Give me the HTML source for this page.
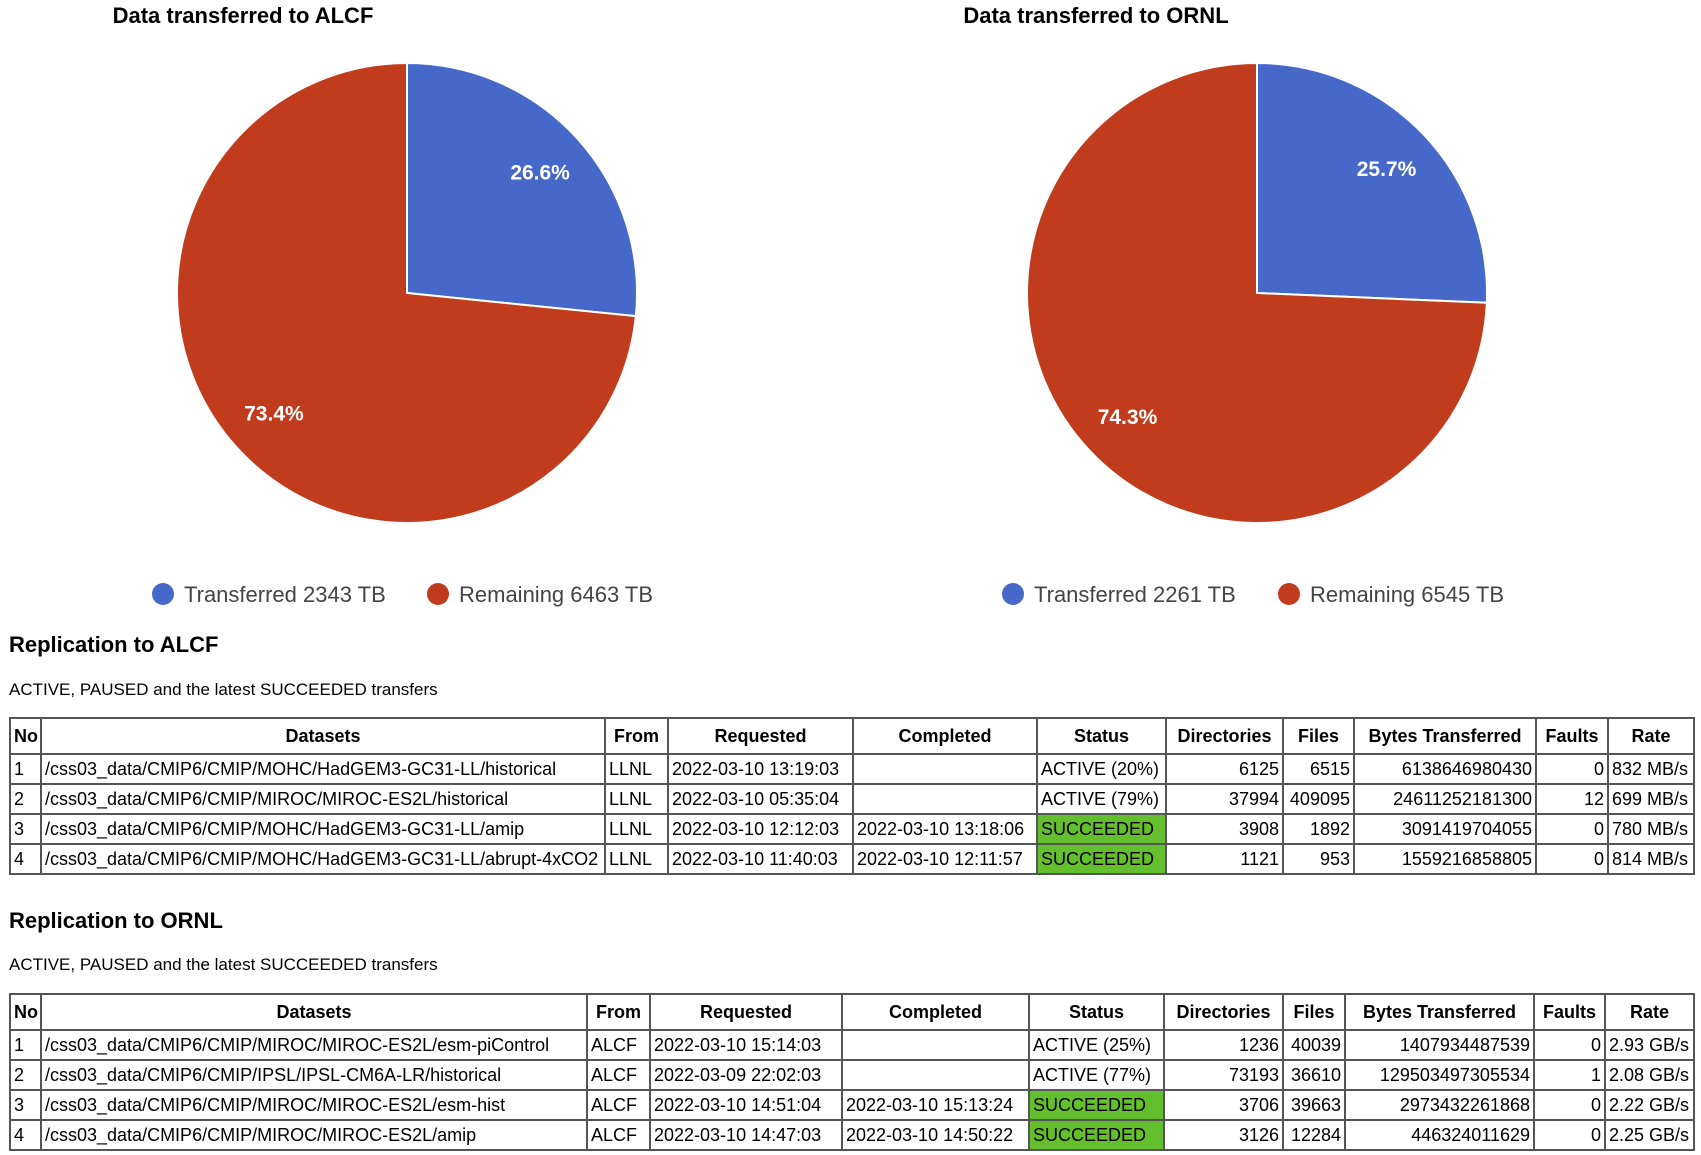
<!DOCTYPE html>
<html><head><meta charset="utf-8">
<style>
body{margin:0;width:1701px;height:1155px;background:#fff;position:relative;overflow:hidden;font-family:"Liberation Sans",Arial,sans-serif;color:#000}
.abs{position:absolute;white-space:nowrap}
h2{margin:0;font-size:22px;font-weight:bold}
.sub{font-size:17px}
table{position:absolute;left:9px;border-collapse:collapse;table-layout:fixed;font-size:18px}
td,th{border:2px solid #555;padding:0 3px;height:28px;white-space:nowrap;overflow:hidden}
th{height:34px;font-weight:bold}
td.r{text-align:right}
td.ok{background:#63bf2e}
</style></head><body>
<svg id="charts" width="1701" height="640" style="position:absolute;left:0;top:0"></svg>

<div class="abs" style="left:9px;top:632px"><h2>Replication to ALCF</h2></div>
<div class="abs sub" style="left:9px;top:680px">ACTIVE, PAUSED and the latest SUCCEEDED transfers</div>
<table style="top:717px;width:1684px">
<colgroup><col style="width:31px"><col style="width:564px"><col style="width:63px"><col style="width:185px"><col style="width:184px"><col style="width:129px"><col style="width:117px"><col style="width:71px"><col style="width:182px"><col style="width:72px"><col style="width:86px"></colgroup>
<tr><th>No</th><th>Datasets</th><th>From</th><th>Requested</th><th>Completed</th><th>Status</th><th>Directories</th><th>Files</th><th>Bytes Transferred</th><th>Faults</th><th>Rate</th></tr>
<tr><td>1</td><td>/css03_data/CMIP6/CMIP/MOHC/HadGEM3-GC31-LL/historical</td><td>LLNL</td><td>2022-03-10 13:19:03</td><td></td><td>ACTIVE (20%)</td><td class="r">6125</td><td class="r">6515</td><td class="r">6138646980430</td><td class="r">0</td><td>832 MB/s</td></tr>
<tr><td>2</td><td>/css03_data/CMIP6/CMIP/MIROC/MIROC-ES2L/historical</td><td>LLNL</td><td>2022-03-10 05:35:04</td><td></td><td>ACTIVE (79%)</td><td class="r">37994</td><td class="r">409095</td><td class="r">24611252181300</td><td class="r">12</td><td>699 MB/s</td></tr>
<tr><td>3</td><td>/css03_data/CMIP6/CMIP/MOHC/HadGEM3-GC31-LL/amip</td><td>LLNL</td><td>2022-03-10 12:12:03</td><td>2022-03-10 13:18:06</td><td class="ok">SUCCEEDED</td><td class="r">3908</td><td class="r">1892</td><td class="r">3091419704055</td><td class="r">0</td><td>780 MB/s</td></tr>
<tr><td>4</td><td>/css03_data/CMIP6/CMIP/MOHC/HadGEM3-GC31-LL/abrupt-4xCO2</td><td>LLNL</td><td>2022-03-10 11:40:03</td><td>2022-03-10 12:11:57</td><td class="ok">SUCCEEDED</td><td class="r">1121</td><td class="r">953</td><td class="r">1559216858805</td><td class="r">0</td><td>814 MB/s</td></tr>
</table>

<div class="abs" style="left:9px;top:908px"><h2>Replication to ORNL</h2></div>
<div class="abs sub" style="left:9px;top:955px">ACTIVE, PAUSED and the latest SUCCEEDED transfers</div>
<table style="top:993px;width:1684px">
<colgroup><col style="width:31px"><col style="width:546px"><col style="width:63px"><col style="width:192px"><col style="width:187px"><col style="width:135px"><col style="width:119px"><col style="width:62px"><col style="width:189px"><col style="width:71px"><col style="width:89px"></colgroup>
<tr><th>No</th><th>Datasets</th><th>From</th><th>Requested</th><th>Completed</th><th>Status</th><th>Directories</th><th>Files</th><th>Bytes Transferred</th><th>Faults</th><th>Rate</th></tr>
<tr><td>1</td><td>/css03_data/CMIP6/CMIP/MIROC/MIROC-ES2L/esm-piControl</td><td>ALCF</td><td>2022-03-10 15:14:03</td><td></td><td>ACTIVE (25%)</td><td class="r">1236</td><td class="r">40039</td><td class="r">1407934487539</td><td class="r">0</td><td>2.93 GB/s</td></tr>
<tr><td>2</td><td>/css03_data/CMIP6/CMIP/IPSL/IPSL-CM6A-LR/historical</td><td>ALCF</td><td>2022-03-09 22:02:03</td><td></td><td>ACTIVE (77%)</td><td class="r">73193</td><td class="r">36610</td><td class="r">129503497305534</td><td class="r">1</td><td>2.08 GB/s</td></tr>
<tr><td>3</td><td>/css03_data/CMIP6/CMIP/MIROC/MIROC-ES2L/esm-hist</td><td>ALCF</td><td>2022-03-10 14:51:04</td><td>2022-03-10 15:13:24</td><td class="ok">SUCCEEDED</td><td class="r">3706</td><td class="r">39663</td><td class="r">2973432261868</td><td class="r">0</td><td>2.22 GB/s</td></tr>
<tr><td>4</td><td>/css03_data/CMIP6/CMIP/MIROC/MIROC-ES2L/amip</td><td>ALCF</td><td>2022-03-10 14:47:03</td><td>2022-03-10 14:50:22</td><td class="ok">SUCCEEDED</td><td class="r">3126</td><td class="r">12284</td><td class="r">446324011629</td><td class="r">0</td><td>2.25 GB/s</td></tr>
</table>

<script>
const chartTitles = ["Data transferred to ALCF", "Data transferred to ORNL"];
const sliceLabels = ["Transferred", "Remaining"];
const alcfValues = [2343, 6463];
const ornlValues = [2261, 6545];
const colors = ["#4668c9", "#c13b1d"];
const NS = "http://www.w3.org/2000/svg";
const svg = document.getElementById("charts");
const layout = [{cx:407, title:243, legX:[163,438]}, {cx:1257, title:1096, legX:[1013,1289]}];
const CY = 293, R = 230;
function mk(tag, attrs){const e=document.createElementNS(NS,tag);for(const k in attrs)e.setAttribute(k,attrs[k]);svg.appendChild(e);return e;}
function pt(cx,a,r){return [cx+r*Math.sin(a), CY-r*Math.cos(a)];}
[alcfValues, ornlValues].forEach((vals, ci) => {
  const L = layout[ci];
  const t = mk("text",{x:L.title,y:23,"text-anchor":"middle","font-size":"22","font-weight":"bold","font-family":"Liberation Sans, sans-serif"});
  t.textContent = chartTitles[ci];
  
  
  const total = vals.reduce((a,b)=>a+b,0);
  let a0 = 0;
  vals.forEach((v, i) => {
    const a1 = a0 + v/total*2*Math.PI;
    const p0 = pt(L.cx,a0,R), p1 = pt(L.cx,a1,R);
    const large = (a1-a0) > Math.PI ? 1 : 0;
    const p = mk("path",{d:`M${L.cx},${CY} L${p0[0]},${p0[1]} A${R},${R} 0 ${large} 1 ${p1[0]},${p1[1]} Z`,fill:colors[i],stroke:"#fff","stroke-width":"2"});
    
    
    const am = (a0+a1)/2, lp = pt(L.cx, am, R*0.78);
    const lt = mk("text",{x:lp[0],y:lp[1]+7,"text-anchor":"middle",fill:"#fff","font-size":"21","font-weight":"bold","font-family":"Liberation Sans, sans-serif"});
    lt.textContent = (v/total*100).toFixed(1) + "%";
    
    
    const c = mk("circle",{cx:L.legX[i],cy:594,r:11,fill:colors[i]});
    
    
    const tt = mk("text",{x:L.legX[i]+21,y:602,"font-size":"22",fill:"#444","font-family":"Liberation Sans, sans-serif"});
    tt.textContent = sliceLabels[i] + " " + v + " TB";
    
    
    a0 = a1;
  });
});
</script>
</body></html>
